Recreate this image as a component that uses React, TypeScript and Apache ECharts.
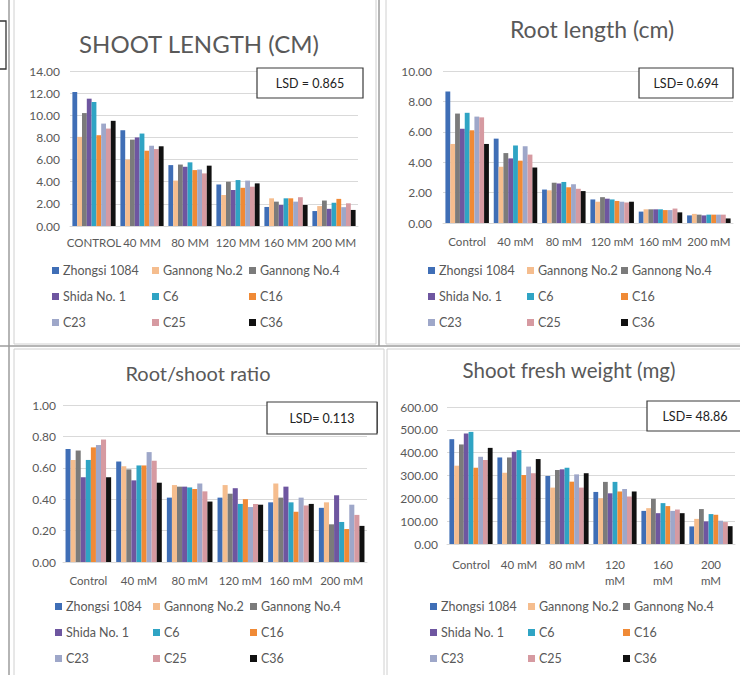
import React, { useEffect, useRef } from "react";
import * as echarts from "echarts";

// Salt treatments on the x axis
const treatments = ["Control", "40 mM", "80 mM", "120 mM", "160 mM", "200 mM"];

// Cultivars / lines, in series order
const cultivars = [
  "Zhongsi 1084",
  "Gannong No.2",
  "Gannong No.4",
  "Shida No. 1",
  "C6",
  "C16",
  "C23",
  "C25",
  "C36",
];

const cultivarColors = [
  "#3F6EB6",
  "#F5BD8E",
  "#7B7B7B",
  "#6E56A0",
  "#2FA4C4",
  "#F08A36",
  "#9EA7C9",
  "#D69AA1",
  "#111111",
];

// One row per cultivar, one column per treatment
const shootLength = [
  [12.1, 8.65, 5.5, 3.75, 1.72, 1.35],
  [8.05, 6.0, 4.1, 2.8, 2.5, 1.8],
  [10.2, 7.8, 5.55, 4.0, 2.2, 2.3],
  [11.5, 8.0, 5.35, 3.25, 1.9, 1.55],
  [11.2, 8.35, 5.75, 4.15, 2.5, 2.1],
  [8.2, 6.8, 5.05, 3.45, 2.5, 2.45],
  [9.25, 7.25, 5.1, 4.1, 2.2, 1.7],
  [8.8, 6.95, 4.75, 3.55, 2.6, 2.05],
  [9.5, 7.2, 5.45, 3.85, 1.9, 1.45],
];

const rootLength = [
  [8.65, 5.55, 2.2, 1.55, 0.75, 0.5],
  [5.2, 3.7, 2.15, 1.4, 0.9, 0.6],
  [7.2, 4.6, 2.65, 1.7, 0.9, 0.55],
  [6.2, 4.25, 2.6, 1.6, 0.9, 0.5],
  [7.25, 5.1, 2.7, 1.55, 0.9, 0.55],
  [6.1, 4.1, 2.35, 1.45, 0.85, 0.55],
  [7.0, 5.05, 2.55, 1.4, 0.85, 0.55],
  [6.95, 4.5, 2.25, 1.35, 0.95, 0.55],
  [5.2, 3.65, 2.1, 1.4, 0.7, 0.3],
];

const rootShootRatio = [
  [0.72, 0.64, 0.41, 0.41, 0.38, 0.345],
  [0.65, 0.61, 0.49, 0.49, 0.5, 0.38],
  [0.71, 0.59, 0.48, 0.435, 0.41, 0.24],
  [0.54, 0.52, 0.48, 0.47, 0.48, 0.425],
  [0.65, 0.615, 0.475, 0.37, 0.38, 0.255],
  [0.73, 0.615, 0.465, 0.4, 0.32, 0.21],
  [0.745, 0.7, 0.5, 0.35, 0.41, 0.365],
  [0.78, 0.645, 0.45, 0.37, 0.36, 0.3],
  [0.54, 0.505, 0.385, 0.365, 0.37, 0.23],
];

const shootFreshWeight = [
  [459, 379, 298, 228, 145, 77],
  [343, 312, 247, 200, 157, 110],
  [436, 379, 324, 272, 198, 153],
  [484, 404, 327, 222, 135, 99],
  [491, 411, 334, 272, 179, 131],
  [334, 302, 273, 230, 166, 128],
  [382, 339, 305, 241, 145, 102],
  [368, 310, 247, 208, 151, 96],
  [421, 372, 310, 230, 135, 78],
];

const panelTitles = [
  "SHOOT LENGTH (CM)",
  "Root length (cm)",
  "Root/shoot ratio",
  "Shoot fresh weight (mg)",
];
const lsdLabels = ["LSD = 0.865", "LSD= 0.694", "LSD= 0.113", "LSD= 48.86"];
const yMax = [14, 10, 1, 600];
const yStep = [2, 2, 0.2, 100];

const FONT = 'Lato, "Open Sans", "DejaVu Sans", sans-serif';
const TEXT = "#595959";

// Layout of the four panels
const panels = [
  {
    data: shootLength,
    grid: { left: 70, top: 71, width: 288, height: 155 },
    yMargin: 10,
    xMargin: 8,
    title: { x: 199, y: 43, size: 24 },
    lsd: { x: 257, y: 68, w: 106, h: 30 },
    legend: { left: 52, cols: [0, 100, 197], rows: [272, 298, 324] },
  },
  {
    data: rootLength,
    grid: { left: 443, top: 71, width: 290, height: 152 },
    yMargin: 11,
    xMargin: 10,
    title: { x: 592, y: 29, size: 23 },
    lsd: { x: 639, y: 68, w: 94, h: 30 },
    legend: { left: 428, cols: [0, 99, 193], rows: [272, 298, 324] },
  },
  {
    data: rootShootRatio,
    grid: { left: 63, top: 405, width: 304, height: 157 },
    yMargin: 7,
    xMargin: 10,
    title: { x: 198, y: 373, size: 20 },
    lsd: { x: 267, y: 402, w: 110, h: 32 },
    legend: { left: 55, cols: [0, 98, 195], rows: [608, 634, 660] },
  },
  {
    data: shootFreshWeight,
    grid: { left: 447, top: 407, width: 288, height: 137 },
    yMargin: 9,
    xMargin: 12,
    title: { x: 569, y: 370, size: 20.5 },
    lsd: { x: 647, y: 401, w: 96, h: 30 },
    legend: { left: 430, cols: [0, 98, 193], rows: [608, 634, 660] },
  },
];

function buildOption() {
  const grids: any[] = [];
  const xAxes: any[] = [];
  const yAxes: any[] = [];
  const series: any[] = [];
  const legends: any[] = [];
  const graphic: any[] = [];

  // Panel frames and dividers
  graphic.push(
    { type: "line", shape: { x1: 9, y1: 0, x2: 9, y2: 675 }, style: { stroke: "#9c9c9c", lineWidth: 1.5 } },
    { type: "rect", shape: { x: 14, y: -2, width: 362, height: 346 }, style: { fill: "none", stroke: "#d0d0d0", lineWidth: 1 } },
    { type: "rect", shape: { x: 386, y: -2, width: 360, height: 346 }, style: { fill: "none", stroke: "#d0d0d0", lineWidth: 1 } },
    { type: "line", shape: { x1: 379, y1: 0, x2: 379, y2: 346 }, style: { stroke: "#9c9c9c", lineWidth: 1.5 } },
    { type: "line", shape: { x1: 0, y1: 346, x2: 740, y2: 346 }, style: { stroke: "#9c9c9c", lineWidth: 1.5 } },
    { type: "rect", shape: { x: 14, y: 349, width: 370, height: 330 }, style: { fill: "none", stroke: "#d0d0d0", lineWidth: 1 } },
    { type: "rect", shape: { x: 387, y: 349, width: 360, height: 330 }, style: { fill: "none", stroke: "#d0d0d0", lineWidth: 1 } },
    { type: "rect", shape: { x: -4, y: 21, width: 10, height: 48 }, style: { fill: "#fff", stroke: "#333", lineWidth: 1.3 } },
    { type: "line", shape: { x1: 377, y1: 402, x2: 377, y2: 433 }, style: { stroke: "#333", lineWidth: 1.5 } }
  );

  panels.forEach((p, pi) => {
    grids.push({ ...p.grid, containLabel: false });
    xAxes.push({
      type: "category",
      gridIndex: pi,
      data: treatments,
      axisTick: { show: false },
      axisLine: { lineStyle: { color: "#d9d9d9" } },
      axisLabel: {
        interval: 0,
        margin: p.xMargin,
        color: TEXT,
        fontFamily: FONT,
        fontSize: 11.5,
        lineHeight: 16,
        formatter: (v: string, i: number) => {
          if (pi === 0) return v.toUpperCase();
          if (pi === 3 && i >= 3) return v.replace(" ", "\n");
          return v;
        },
      },
    });
    yAxes.push({
      type: "value",
      gridIndex: pi,
      min: 0,
      max: yMax[pi],
      interval: yStep[pi],
      axisLine: { show: false },
      axisTick: { show: false },
      splitLine: { lineStyle: { color: "#d9d9d9" } },
      axisLabel: {
        margin: p.yMargin,
        color: TEXT,
        fontFamily: FONT,
        fontSize: 12,
        formatter: (v: number) => v.toFixed(2),
      },
    });

    cultivars.forEach((name, ci) => {
      series.push({
        type: "bar",
        name,
        xAxisIndex: pi,
        yAxisIndex: pi,
        data: p.data[ci],
        barGap: "0%",
        barCategoryGap: "10%",
        itemStyle: { color: cultivarColors[ci] },
      });

      // Legend entries laid out on a 3 x 3 grid
      const row = Math.floor(ci / 3);
      const col = ci % 3;
      legends.push({
        left: p.legend.left + p.legend.cols[col],
        top: p.legend.rows[row] - 8,
        padding: 0,
        itemWidth: 7,
        itemHeight: 7,
        itemGap: 0,
        icon: "rect",
        selectedMode: false,
        data: [name],
        textStyle: { color: TEXT, fontFamily: FONT, fontSize: 12.5, padding: [0, 0, 0, -1] },
      });
    });

    graphic.push({
      type: "text",
      x: p.title.x,
      y: p.title.y,
      style: {
        text: panelTitles[pi],
        fill: TEXT,
        font: `${p.title.size}px ${FONT}`,
        textAlign: "center",
        textVerticalAlign: "middle",
      },
    });
    graphic.push({
      type: "rect",
      z: 10,
      shape: { x: p.lsd.x, y: p.lsd.y, width: p.lsd.w, height: p.lsd.h },
      style: { fill: "#fff", stroke: "#3a3a3a", lineWidth: 1.2 },
    });
    graphic.push({
      type: "text",
      z: 11,
      x: p.lsd.x + p.lsd.w / 2,
      y: p.lsd.y + p.lsd.h / 2,
      style: {
        text: lsdLabels[pi],
        fill: "#222",
        font: `12.5px ${FONT}`,
        textAlign: "center",
        textVerticalAlign: "middle",
      },
    });
  });

  return {
    animation: false,
    backgroundColor: "#ffffff",
    grid: grids,
    xAxis: xAxes,
    yAxis: yAxes,
    legend: legends,
    series,
    graphic,
  };
}

export default function App() {
  const ref = useRef<HTMLDivElement>(null);

  useEffect(() => {
    if (!ref.current) return;
    const chart = echarts.init(ref.current, undefined, { renderer: "svg" });
    chart.setOption(buildOption() as any);
    return () => chart.dispose();
  }, []);

  return (
    <div
      ref={ref}
      style={{ position: "fixed", left: 0, top: 0, width: 740, height: 675, background: "#fff" }}
    />
  );
}
